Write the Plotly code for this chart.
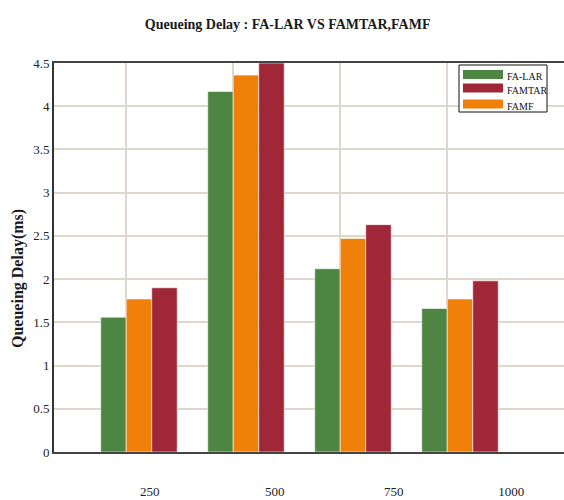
import plotly.graph_objects as go

categories = ["250", "500", "750", "1000"]
fa_lar = [1.56, 4.17, 2.12, 1.66]
famf = [1.77, 4.36, 2.47, 1.77]
famtar = [1.90, 4.50, 2.63, 1.98]

GREEN = "#4E8542"
ORANGE = "#EF800A"
RED = "#A02737"
GRID = "#DDD8C9"
SERIF = "Liberation Serif"

idx = list(range(len(categories)))
bar_w = (1 - 0.285) / 3

series = [("FA-LAR", fa_lar, GREEN), ("FAMF", famf, ORANGE), ("FAMTAR", famtar, RED)]
legend_order = ["FA-LAR", "FAMTAR", "FAMF"]

fig = go.Figure()
for name, vals, col in series:
    fig.add_trace(go.Bar(x=idx, y=vals, name=name, marker_color=col,
                         marker_line=dict(color="rgba(255,255,255,0.6)", width=1),
                         showlegend=False))

# invisible trace to hold the label axis
fig.add_trace(go.Scatter(x=[None], y=[None], xaxis="x2", showlegend=False, hoverinfo="skip"))

xr = [-0.794, 3.972]
label_shift = [0.10, 0.27, 0.38, 0.48]

# plot area geometry in px (for legend placement in paper coords)
L, T, B, W = 54, 63, 452, 510
H = B - T
def px(x): return (x - L) / W
def py(y): return (B - y) / H

shapes = [dict(type="rect", xref="paper", yref="paper",
               x0=px(459), x1=px(547), y0=py(112), y1=py(65),
               line=dict(color="#111", width=1), fillcolor="white", layer="above")]
annotations = []
colors = {n: c for n, _, c in series}
row_y = [74.5, 88, 104]
for name, ry in zip(legend_order, row_y):
    shapes.append(dict(type="rect", xref="paper", yref="paper",
                       x0=px(463), x1=px(503), y0=py(ry + 4.5), y1=py(ry - 4.5),
                       line=dict(width=0), fillcolor=colors[name], layer="above"))
    annotations.append(dict(text=name, xref="paper", yref="paper", x=px(505), y=py(ry + 2),
                            xanchor="left", yanchor="middle", showarrow=False,
                            font=dict(family=SERIF, size=10, color="#111")))

annotations.append(dict(text="<b>Queueing Delay(ms)</b>", textangle=-90,
                        xref="paper", yref="paper", x=px(18), y=py(279),
                        xanchor="center", yanchor="middle", showarrow=False,
                        font=dict(family=SERIF, size=16, color="#1a1a1a")))

fig.update_layout(
    width=564, height=500,
    margin=dict(l=L, r=0, t=T, b=500 - B),
    plot_bgcolor="white", paper_bgcolor="white",
    barmode="group", bargap=0.285, bargroupgap=0,
    font=dict(family=SERIF, color="#222", size=13),
    showlegend=False,
    title=dict(text="<b>Queueing Delay : FA-LAR VS FAMTAR,FAMF</b>",
               x=0.51, xanchor="center", y=0.952, yanchor="middle",
               font=dict(family=SERIF, size=14, color="#1a1a1a")),
    xaxis=dict(range=xr, tickvals=[i - bar_w / 2 for i in idx], showticklabels=False,
               ticks="", showgrid=True, gridcolor=GRID, gridwidth=2, zeroline=False,
               showline=True, mirror=True, linecolor="#444", linewidth=2),
    xaxis2=dict(range=xr, overlaying="x", anchor="y", side="bottom",
                tickvals=[i + s for i, s in zip(idx, label_shift)], ticktext=categories,
                showgrid=False, zeroline=False, showline=False, ticks="",
                ticklabelstandoff=30, tickfont=dict(family=SERIF, size=13, color="#222")),
    yaxis=dict(range=[0, 4.5], tickvals=[0, 0.5, 1, 1.5, 2, 2.5, 3, 3.5, 4, 4.5],
               ticktext=["0", "0.5", "1", "1.5", "2", "2.5", "3", "3.5", "4", "4.5"],
               showgrid=True, gridcolor=GRID, gridwidth=2, zeroline=False,
               showline=True, linecolor="#333", linewidth=2, ticks="",
               tickfont=dict(family=SERIF, size=13, color="#222")),
    shapes=shapes,
    annotations=annotations,
)

fig.write_html("out.html")
